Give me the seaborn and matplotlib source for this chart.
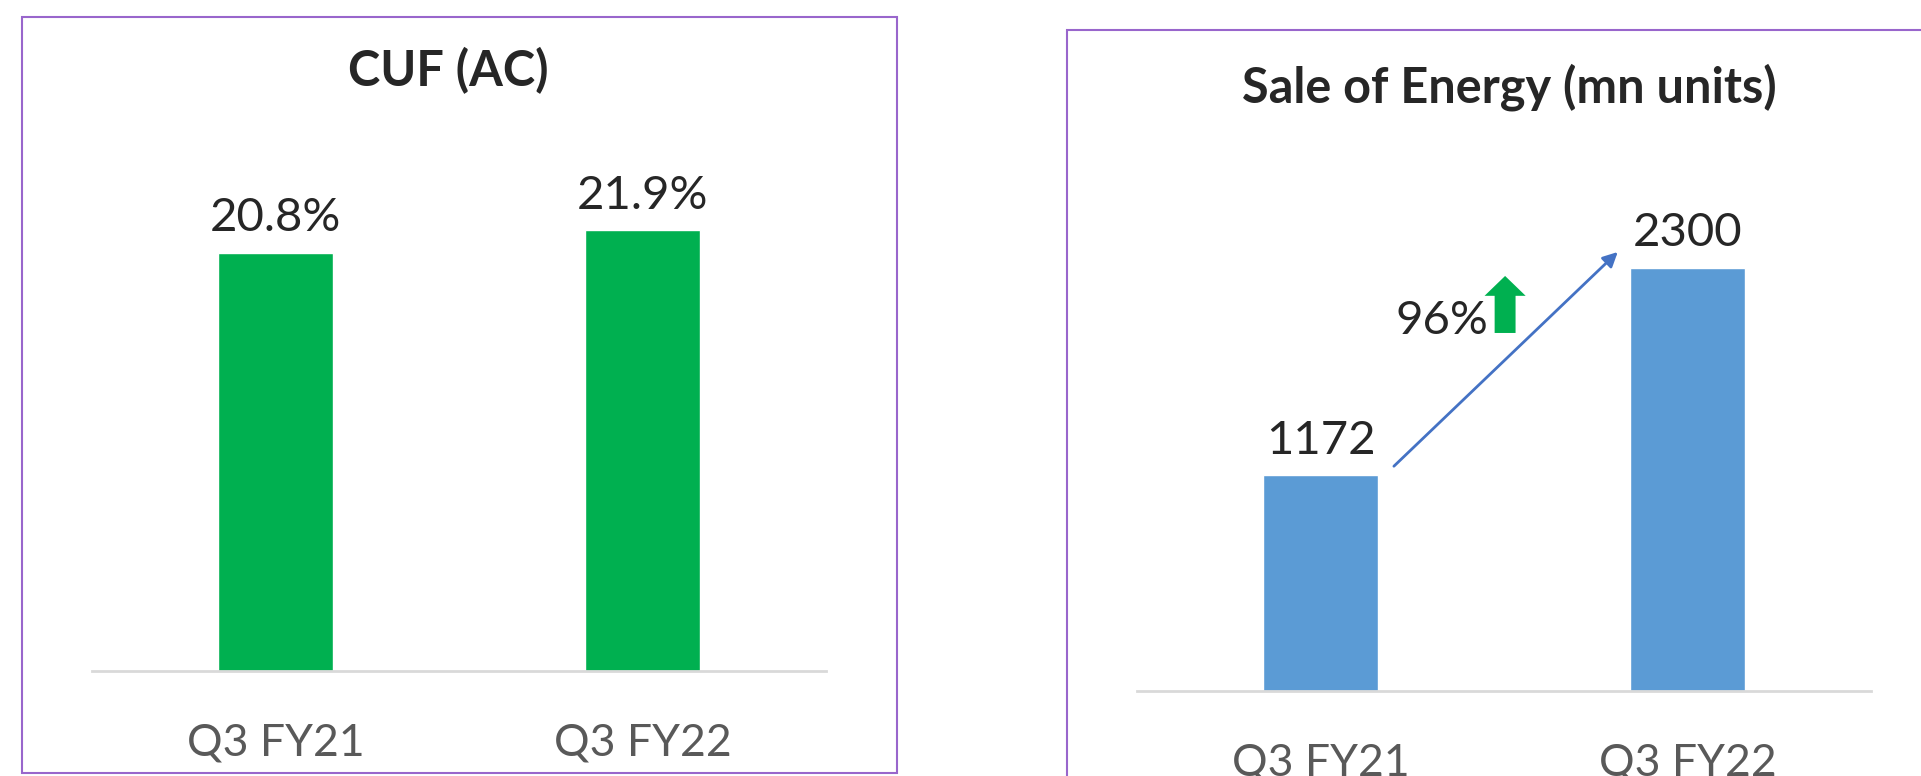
import numpy as np
import seaborn as sns
import matplotlib.pyplot as plt
from matplotlib.patches import Rectangle

# data
quarters = ["Q3 FY21", "Q3 FY22"]
cuf_pct = [20.8, 21.9]
energy_mn = [1172, 2300]

growth = round((energy_mn[1] / energy_mn[0] - 1) * 100)

sns.set_style("white")
plt.rcParams['font.family'] = ['Lato', 'DejaVu Sans']

W, H = 1921, 776
fig = plt.figure(figsize=(W / 100, H / 100), dpi=100)


def px_axes(x0, x1, y_base, y_top):
    # pixel box -> figure fraction
    return fig.add_axes([x0 / W, (H - y_base) / H, (x1 - x0) / W, (y_base - y_top) / H])


def style_ax(ax):
    for s in ["top", "right", "left"]:
        ax.spines[s].set_visible(False)
    ax.spines["bottom"].set_color("#D9D9D9")
    ax.spines["bottom"].set_linewidth(2)
    ax.set_yticks([])
    ax.set_xlim(-0.5, 1.5)
    ax.tick_params(axis="x", length=0, pad=37, labelsize=32, labelcolor="#595959")
    ax.set_xlabel("")
    ax.set_ylabel("")


# left: CUF
ax1 = px_axes(92, 826, 671, 150)
sns.barplot(x=quarters, y=cuf_pct, color="#00B050", saturation=1, width=0.315, ax=ax1)
ax1.set_ylim(0, 25.9)
style_ax(ax1)
ax1.bar_label(ax1.containers[0], labels=[f"{v}%" for v in cuf_pct], padding=10, fontsize=34)

# right: sale of energy
ax2 = px_axes(1137, 1871, 691, 150)
sns.barplot(x=quarters, y=energy_mn, color="#5B9BD5", saturation=1, width=0.315, ax=ax2)
ax2.set_ylim(0, 2942)
style_ax(ax2)
ax2.bar_label(ax2.containers[0], labels=[str(v) for v in energy_mn], padding=10, fontsize=34)

# growth arrow + label
ax2.annotate("", xy=(0.81, energy_mn[1] * 1.038), xytext=(0.2, energy_mn[0] * 1.043),
             arrowprops=dict(arrowstyle="-|>", color="#4472C4", lw=2, mutation_scale=22,
                             shrinkA=0, shrinkB=0))
ax2.text(0.33, 2012, f"{growth}%", ha="center", va="center", fontsize=34)
ax2.arrow(0.503, 1947, 0, 310, width=0.057, head_width=0.112, head_length=108,
          length_includes_head=True, color="#00B050", lw=0)

# titles
fig.text(448 / W, 1 - 71 / H, "CUF (AC)", ha="center", va="center", fontsize=35, fontweight="bold")
fig.text(1509 / W, 1 - 87 / H, "Sale of Energy (mn units)", ha="center", va="center",
         fontsize=35, fontweight="bold")

# panel frames
fig.patches.append(Rectangle((22 / W, 3 / H), 875 / W, 756 / H, transform=fig.transFigure,
                             fill=False, edgecolor="#9966CC", lw=1.5))
fig.patches.append(Rectangle((1067 / W, -0.05), 0.5, (H - 30) / H + 0.05, transform=fig.transFigure,
                             fill=False, edgecolor="#9966CC", lw=1.5, clip_on=False))

fig.savefig("out.png", dpi=100)
